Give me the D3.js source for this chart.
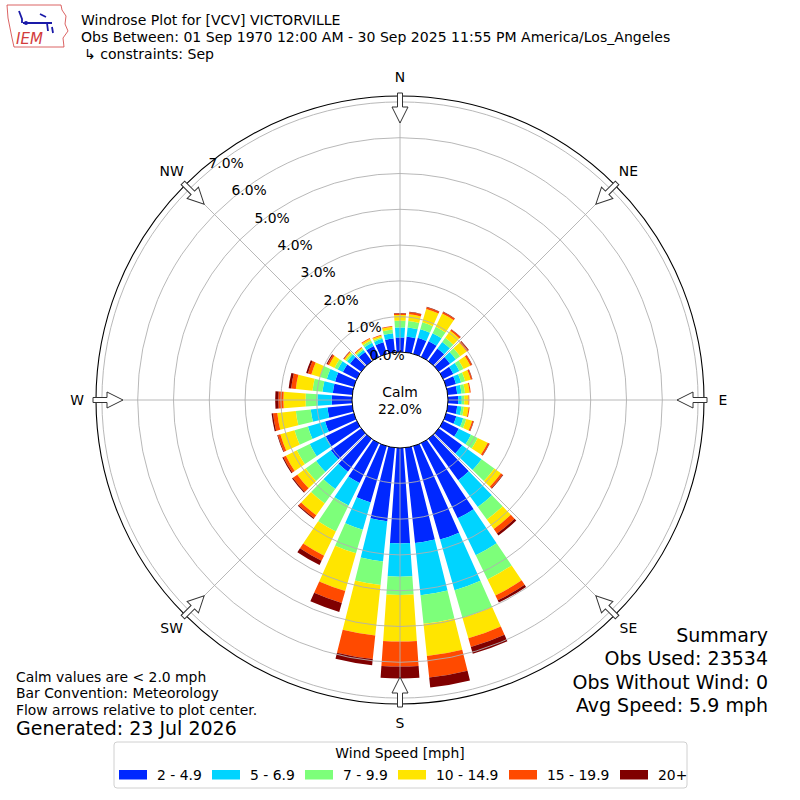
<!DOCTYPE html>
<html>
<head>
<meta charset="utf-8">
<title>Windrose VCV</title>
<script src="https://cdn.jsdelivr.net/npm/d3@7"></script>
<style>
  body { margin: 0; background: #fff; }
  text { font-family: "DejaVu Sans", sans-serif; fill: #000; }
</style>
</head>
<body>
<script>

// direction of the bar centres, degrees from north
var directions = d3.range(0, 360, 10);

var speedBins = ["2 - 4.9", "5 - 6.9", "7 - 9.9", "10 - 14.9", "15 - 19.9", "20+"];
var binColors = ["#0028ff", "#00d4ff", "#7dff7a", "#ffe500", "#ff4a00", "#800000"];

// percent of obs per direction for each speed bin
var bin2to5   = [.42,.45,.48,.50,.45,.40,.33,.30,.28,.30,.28,.31,.50,.82,1.44,2.35,2.73,2.69,2.68,2.08,1.65,1.25,1.15,1.06,.98,.85,.71,.58,.56,.56,.45,.40,.33,.35,.35,.40];
var bin5to7   = [.28,.26,.25,.25,.23,.20,.19,.15,.12,.10,.12,.20,.38,.67,.93,1.15,1.47,1.47,.93,1.13,.79,.70,.60,.51,.50,.50,.47,.40,.29,.24,.16,.10,.07,.10,.10,.15];
var bin7to10  = [.19,.18,.20,.20,.14,.15,.13,.12,.10,.07,.07,.09,.21,.44,.43,.75,.80,.80,.51,.66,.69,.81,.50,.36,.40,.39,.42,.33,.28,.20,.10,.05,.04,.07,.05,.10];
var bin10to15 = [.16,.19,.39,.41,.24,.23,.21,.16,.13,.12,.13,.17,.31,.23,.33,.50,.60,.90,1.30,1.42,1.09,.75,.40,.29,.34,.41,.52,.62,.47,.25,.17,.05,.04,.06,.05,.08];
var bin15to20 = [.04,.06,.05,.05,.05,.05,.05,.04,.03,.02,.03,.04,.05,.06,.15,.15,.25,.61,.70,.66,.35,.16,.10,.15,.08,.07,.12,.14,.13,.10,.05,.02,.02,.02,.02,.02];
var bin20plus = [.01,.01,.01,.01,.01,.02,.01,.01,0,0,0,.01,.01,.02,.07,.07,.20,.28,.33,.17,.26,.13,.03,.03,.03,.02,.04,.09,.07,.05,.03,.01,0,0,0,0];

var radialTicks = [0, 1, 2, 3, 4, 5, 6, 7];
var compassNames = ["N", "NE", "E", "SE", "S", "SW", "W", "NW"];
var compassAngles = [0, 45, 90, 135, 180, 225, 270, 315];

var titleLines = ["Windrose Plot for [VCV] VICTORVILLE",
                  "Obs Between: 01 Sep 1970 12:00 AM - 30 Sep 2025 11:55 PM America/Los_Angeles",
                  "\u21b3 constraints: Sep"];
var noteLines = ["Calm values are < 2.0 mph", "Bar Convention: Meteorology", "Flow arrows relative to plot center."];
var summaryLines = ["Summary", "Obs Used: 23534", "Obs Without Wind: 0", "Avg Speed: 5.9 mph"];
var calmPct = 22.0;

var w = 800, h = 800, cx = 400, cy = 400;

var svg = d3.select("body").append("svg")
  .attr("width", w)
  .attr("height", h);

var keys = ["b0", "b1", "b2", "b3", "b4", "b5"];
var series = [bin2to5, bin5to7, bin7to10, bin10to15, bin15to20, bin20plus];
var rows = directions.map(function(d, i) {
  var row = {dir: d};
  keys.forEach(function(k, j) { row[k] = series[j][i]; });
  return row;
});
var stacked = d3.stack().keys(keys)(rows);

var rScale = d3.scaleLinear().domain([0, 7]).range([47.5, 298.1]);
var aScale = d3.scaleLinear().domain([0, 360]).range([0, 2 * Math.PI]);
var halfBar = 4;

var plot = svg.append("g").attr("transform", "translate(" + cx + "," + cy + ")");

var arc = d3.arc()
  .innerRadius(function(d) { return rScale(d[0]); })
  .outerRadius(function(d) { return rScale(d[1]); })
  .startAngle(function(d) { return aScale(d.data.dir - halfBar); })
  .endAngle(function(d) { return aScale(d.data.dir + halfBar); });

plot.selectAll(".layer")
  .data(stacked)
  .enter().append("g")
  .attr("fill", function(d, i) { return binColors[i]; })
  .selectAll("path")
  .data(function(d) { return d; })
  .enter().append("path")
  .attr("d", arc);

// grid
plot.selectAll(".ring")
  .data(radialTicks.slice(1))
  .enter().append("circle")
  .attr("r", function(d) { return rScale(d); })
  .attr("fill", "none")
  .attr("stroke", "#b0b0b0")
  .attr("stroke-width", 0.9);

plot.selectAll(".spoke")
  .data(compassAngles)
  .enter().append("line")
  .attr("x1", 0).attr("y1", 0)
  .attr("x2", function(d) { return 304 * Math.sin(aScale(d)); })
  .attr("y2", function(d) { return -304 * Math.cos(aScale(d)); })
  .attr("stroke", "#b0b0b0")
  .attr("stroke-width", 0.9);

// calm circle
plot.append("circle")
  .attr("r", 48)
  .attr("fill", "#fff")
  .attr("stroke", "#000")
  .attr("stroke-width", 1);
plot.append("text").attr("x", 0).attr("y", -3)
  .attr("text-anchor", "middle").attr("font-size", "13.9px").text("Calm");
plot.append("text").attr("x", 0).attr("y", 14)
  .attr("text-anchor", "middle").attr("font-size", "13.9px").text(calmPct.toFixed(1) + "%");

// radial tick labels along the 320 degree line
var labAngle = aScale(320);
plot.selectAll(".rlab")
  .data(radialTicks)
  .enter().append("text")
  .attr("x", function(d) { return rScale(d) * Math.sin(labAngle); })
  .attr("y", function(d) { return -rScale(d) * Math.cos(labAngle) - 4; })
  .attr("font-size", "13.9px")
  .text(function(d) { return d3.format(".1f")(d) + "%"; });

// outer frame
plot.append("circle")
  .attr("r", 304)
  .attr("fill", "none")
  .attr("stroke", "#000")
  .attr("stroke-width", 1.1);

// flow arrows pointing to the centre
var arrowPath = "M-2.5,-307 L2.5,-307 L2.5,-293 L8,-293 L0,-277 L-8,-293 L-2.5,-293 Z";
plot.selectAll(".arrow")
  .data(compassAngles)
  .enter().append("path")
  .attr("d", arrowPath)
  .attr("transform", function(d) { return "rotate(" + d + ")"; })
  .attr("fill", "#fff")
  .attr("stroke", "#333")
  .attr("stroke-width", 1);

plot.selectAll(".compass")
  .data(compassNames)
  .enter().append("text")
  .attr("x", function(d, i) { return 323 * Math.sin(aScale(compassAngles[i])); })
  .attr("y", function(d, i) { return -323 * Math.cos(aScale(compassAngles[i])); })
  .attr("dy", "0.34em")
  .attr("text-anchor", "middle")
  .attr("font-size", "13.9px")
  .text(function(d) { return d; });

// titles
svg.selectAll(".title")
  .data(titleLines)
  .enter().append("text")
  .attr("x", function(d, i) { return i == 2 ? 84 : 81; })
  .attr("y", function(d, i) { return 25 + i * 17; })
  .attr("font-size", "14.05px")
  .text(function(d) { return d; });

// IEM logo
var logo = svg.append("g");
logo.append("path")
  .attr("d", "M7,5 L61,5 L62,10 L66,16 L65,24 L68,31 L63,38 L64,47 L14,47 L12,38 L10,28 L8,18 Z")
  .attr("fill", "none").attr("stroke", "#d23c3c").attr("stroke-width", 0.8);
logo.append("path")
  .attr("d", "M23,23 L52,23 M19,11 L22,19 L22,23 M40,14 L46,17 M47,23 L48,31 M52,27 L53,33")
  .attr("fill", "none").attr("stroke", "#1a1aa8").attr("stroke-width", 1.8);
logo.append("circle").attr("cx", 26).attr("cy", 23).attr("r", 2).attr("fill", "#1a1aa8");
logo.append("text")
  .attr("x", 16).attr("y", 44)
  .attr("font-family", "'Liberation Serif', serif")
  .attr("font-style", "italic")
  .attr("font-size", "15px")
  .style("fill", "#d23c3c")
  .text("IEM");

// notes, bottom left
svg.selectAll(".note")
  .data(noteLines)
  .enter().append("text")
  .attr("x", 16)
  .attr("y", function(d, i) { return 681.5 + i * 16.8; })
  .attr("font-size", "13.9px")
  .text(function(d) { return d; });
svg.append("text")
  .attr("x", 16).attr("y", 735)
  .attr("font-size", "19px")
  .text("Generated: 23 Jul 2026");

// summary, bottom right
svg.selectAll(".summary")
  .data(summaryLines)
  .enter().append("text")
  .attr("x", 768)
  .attr("y", function(d, i) { return 642 + i * 23.4; })
  .attr("text-anchor", "end")
  .attr("font-size", "19px")
  .text(function(d) { return d; });

// legend
var legend = svg.append("g");
legend.append("rect")
  .attr("x", 114).attr("y", 742)
  .attr("width", 573).attr("height", 46)
  .attr("rx", 3)
  .attr("fill", "#fff")
  .attr("stroke", "#d0d0d0");
legend.append("text")
  .attr("x", 400).attr("y", 757.5)
  .attr("text-anchor", "middle")
  .attr("font-size", "13.9px")
  .text("Wind Speed [mph]");
var legX = [119, 212, 305, 398, 509, 620];
var items = legend.selectAll(".item")
  .data(speedBins)
  .enter().append("g")
  .attr("transform", function(d, i) { return "translate(" + legX[i] + ",0)"; });
items.append("rect")
  .attr("x", 0).attr("y", 770)
  .attr("width", 28).attr("height", 9.5)
  .attr("fill", function(d, i) { return binColors[i]; });
items.append("text")
  .attr("x", 38).attr("y", 779.5)
  .attr("font-size", "13.9px")
  .text(function(d) { return d; });

</script>
</body>
</html>
